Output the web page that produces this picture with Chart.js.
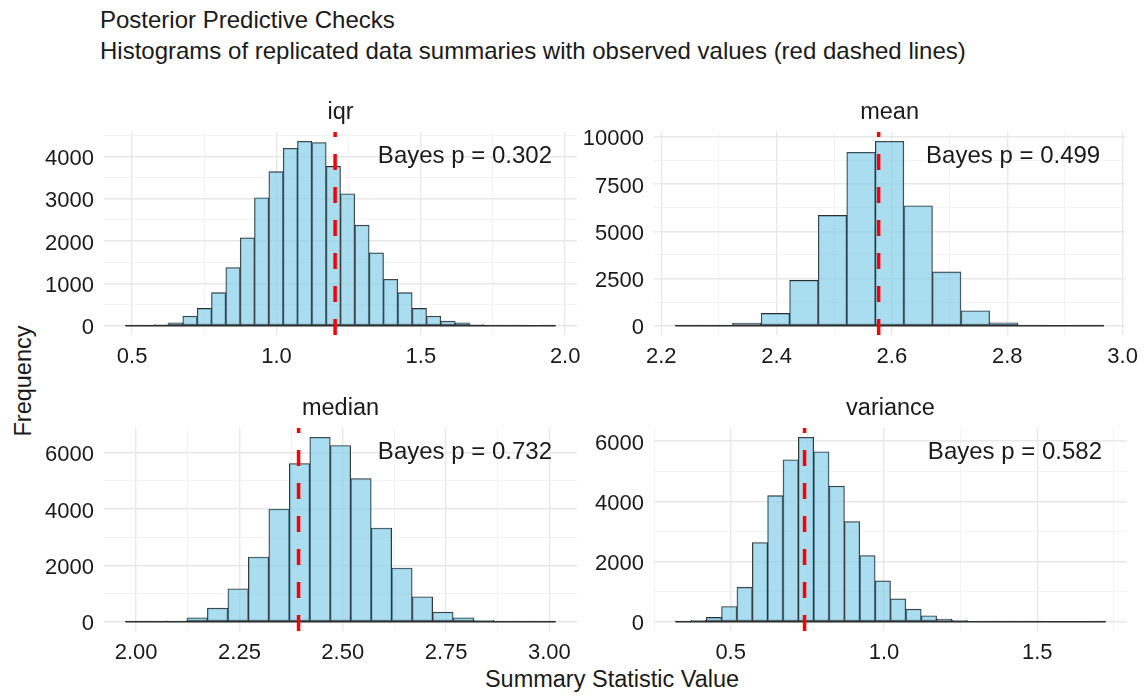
<!DOCTYPE html>
<html>
<head>
<meta charset="utf-8">
<title>Posterior Predictive Checks</title>
<script src="https://cdn.jsdelivr.net/npm/chart.js@4.4.1/dist/chart.umd.min.js"></script>
<style>
  body { margin: 0; background: #fff; }
  #page { position: relative; width: 1147px; height: 697px; overflow: hidden;
          font-family: 'Liberation Sans', Arial, sans-serif; color: #1a1a1a; }
  #page canvas { position: absolute; }
  .txt { position: absolute; font-size: 24px; line-height: 24px; white-space: nowrap; }
  #ylab { left: 23px; top: 381px; font-size: 23.5px; transform: translate(-50%, -50%) rotate(-90deg); }
  #xlab { left: 612px; top: 667px; font-size: 23.5px; transform: translateX(-50%); }
</style>
</head>
<body>
<div id="page">
  <div class="txt" style="left:100px; top:8px">Posterior Predictive Checks</div>
  <div class="txt" style="left:100px; top:39px">Histograms of replicated data summaries with observed values (red dashed lines)</div>
  <div class="txt" id="ylab">Frequency</div>
  <div class="txt" id="xlab">Summary Statistic Value</div>
</div>
<script>
// facets, in drawing order (left-to-right, top-to-bottom)
const statNames = ['iqr', 'mean', 'median', 'variance'];
const bayesP = ['0.302', '0.499', '0.732', '0.582'];
const observed = [1.203, 2.577, 2.393, 0.741];

// histogram bins: first bin edge and bin width per facet
const binStart = [0.477, 2.2246, 1.9742, 0.320];
const binWidth = [0.04965, 0.04952, 0.04955, 0.0501];

const iqrCounts = [1, 8, 30, 70, 229, 410, 781, 1373, 2075, 3022, 3637, 4189, 4355, 4323, 3763,
                   3116, 2375, 1720, 1097, 781, 410, 229, 110, 70, 30, 9, 3, 1, 0, 1];
const meanCounts = [1, 6, 142, 655, 2407, 5841, 9186, 9770, 6354, 2850, 796, 159, 6, 0, 1];
const medianCounts = [1, 4, 35, 142, 485, 1172, 2296, 4000, 5609, 6544, 6249, 5077, 3325, 1905,
                      888, 343, 142, 47, 8, 2, 1];
const varianceCounts = [1, 44, 144, 508, 1149, 2630, 4188, 5381, 6130, 5646, 4508, 3326, 2199, 1359,
                        762, 420, 199, 88, 44, 20, 9, 4, 2, 1, 0, 0, 0, 1];

const iqrXTicks = ['0.5', '1.0', '1.5', '2.0'];
const meanXTicks = ['2.2', '2.4', '2.6', '2.8', '3.0'];
const medianXTicks = ['2.00', '2.25', '2.50', '2.75', '3.00'];
const varianceXTicks = ['0.5', '1.0', '1.5'];
const iqrYTicks = ['0', '1000', '2000', '3000', '4000'];
const meanYTicks = ['0', '2500', '5000', '7500', '10000'];
const medianYTicks = ['0', '2000', '4000', '6000'];
const varianceYTicks = ['0', '2000', '4000', '6000'];

const countSets = [iqrCounts, meanCounts, medianCounts, varianceCounts];
const xTickSets = [iqrXTicks, meanXTicks, medianXTicks, varianceXTicks];
const yTickSets = [iqrYTicks, meanYTicks, medianYTicks, varianceYTicks];

const FONT = "'Liberation Sans', Arial, sans-serif";
const INK = '#1a1a1a';
Chart.defaults.font.family = FONT;

// panel geometry (plot areas)
const colLeft = [104, 654];
const rowTop = [132, 428];
const plotW = 473, plotH = 203;
const Y_AXIS_W = 90, X_AXIS_H = 45, PAD_TOP = 45, PAD_RIGHT = 20;

// labelled ticks plus unlabelled minor ticks halfway between them
function buildTicks(labels, lo, hi) {
  const majors = labels.map(Number);
  const step = majors[1] - majors[0];
  const out = [];
  labels.forEach((l, i) => {
    if (majors[i] >= lo && majors[i] <= hi) out.push({ value: majors[i], lbl: l, isMajor: true });
  });
  for (let i = -1; i < majors.length; i++) {
    const m = (i < 0 ? majors[0] - step : majors[i]) + step / 2;
    if (m >= lo && m <= hi) out.push({ value: m, lbl: '', isMajor: false });
  }
  return out.sort((a, b) => a.value - b.value);
}

const gridOpts = {
  drawTicks: false,
  offset: false,
  color: c => (c.tick && c.tick.isMajor) ? '#e8e8e8' : '#f0f0f0',
  lineWidth: c => (c.tick && c.tick.isMajor) ? 1.4 : 0.8
};

// red dashed observed line, Bayes p note and facet strip label
const facetDecor = {
  id: 'facetDecor',
  afterDatasetsDraw(chart, args, opts) {
    const { ctx, chartArea: a } = chart;
    const px = chart.scales.x.getPixelForValue(opts.observed);
    ctx.save();
    ctx.beginPath();
    ctx.rect(a.left, a.top, a.right - a.left, a.bottom - a.top);
    ctx.clip();
    ctx.strokeStyle = '#ff0000';
    ctx.lineWidth = 3.5;
    ctx.setLineDash([16, 17]);
    ctx.beginPath();
    ctx.moveTo(px, a.bottom);
    ctx.lineTo(px, a.top);
    ctx.stroke();
    ctx.restore();

    ctx.save();
    ctx.fillStyle = INK;
    ctx.textBaseline = 'alphabetic';
    ctx.font = '24px ' + FONT;
    ctx.textAlign = 'right';
    ctx.fillText(opts.note, a.right - 25, a.top + 31);
    ctx.font = '23.5px ' + FONT;
    ctx.textAlign = 'center';
    ctx.fillText(opts.strip, (a.left + a.right) / 2, a.top - 13.5);
    ctx.restore();
  }
};

function drawPanel(i) {
  const counts = countSets[i];
  const start = binStart[i], w = binWidth[i];
  const end = start + counts.length * w;
  const xMin = start - 0.05 * (end - start), xMax = end + 0.05 * (end - start);
  const peak = Math.max(...counts);
  const yMin = -0.05 * peak, yMax = 1.05 * peak;

  const canvas = document.createElement('canvas');
  const left = colLeft[i % 2] - Y_AXIS_W;
  const top = rowTop[Math.floor(i / 2)] - PAD_TOP;
  canvas.width = Y_AXIS_W + plotW + PAD_RIGHT;
  canvas.height = PAD_TOP + plotH + X_AXIS_H;
  canvas.style.left = left + 'px';
  canvas.style.top = top + 'px';
  document.getElementById('page').appendChild(canvas);

  const xTicks = buildTicks(xTickSets[i], xMin, xMax);
  const yTicks = buildTicks(yTickSets[i], yMin, yMax);

  new Chart(canvas, {
    type: 'bar',
    data: {
      datasets: [{
        type: 'line',
        data: [{ x: start, y: 0 }, { x: end, y: 0 }],
        borderColor: '#2e2e2e',
        borderWidth: 1.3,
        pointRadius: 0
      }, {
        data: counts.map((c, k) => ({ x: start + (k + 0.5) * w, y: c })),
        backgroundColor: 'rgba(135, 206, 235, 0.7)',
        borderColor: '#2e2e2e',
        borderWidth: 0.9,
        borderSkipped: false,
        barPercentage: 1,
        categoryPercentage: 1
      }]
    },
    options: {
      responsive: false,
      animation: false,
      events: [],
      layout: { autoPadding: false, padding: { top: PAD_TOP, right: PAD_RIGHT, left: 0, bottom: 0 } },
      plugins: {
        legend: { display: false },
        tooltip: { enabled: false },
        facetDecor: { observed: observed[i], note: 'Bayes p = ' + bayesP[i], strip: statNames[i] }
      },
      scales: {
        x: {
          type: 'linear',
          min: xMin, max: xMax,
          offset: false,
          afterFit: s => { s.height = X_AXIS_H; },
          afterBuildTicks: s => { s.ticks = xTicks.map(t => Object.assign({}, t)); },
          grid: gridOpts,
          border: { display: false },
          ticks: {
            padding: 9, maxRotation: 0, autoSkip: false,
            color: INK, font: { size: 22 },
            callback: (v, k, ticks) => ticks[k].lbl
          }
        },
        y: {
          type: 'linear',
          min: yMin, max: yMax,
          afterFit: s => { s.width = Y_AXIS_W; },
          afterBuildTicks: s => { s.ticks = yTicks.map(t => Object.assign({}, t)); },
          grid: gridOpts,
          border: { display: false },
          ticks: {
            padding: 10, autoSkip: false, labelOffset: 2.5,
            color: INK, font: { size: 22 },
            callback: (v, k, ticks) => ticks[k].lbl
          }
        }
      }
    },
    plugins: [facetDecor]
  });
}

statNames.forEach((s, i) => drawPanel(i));
</script>
</body>
</html>
